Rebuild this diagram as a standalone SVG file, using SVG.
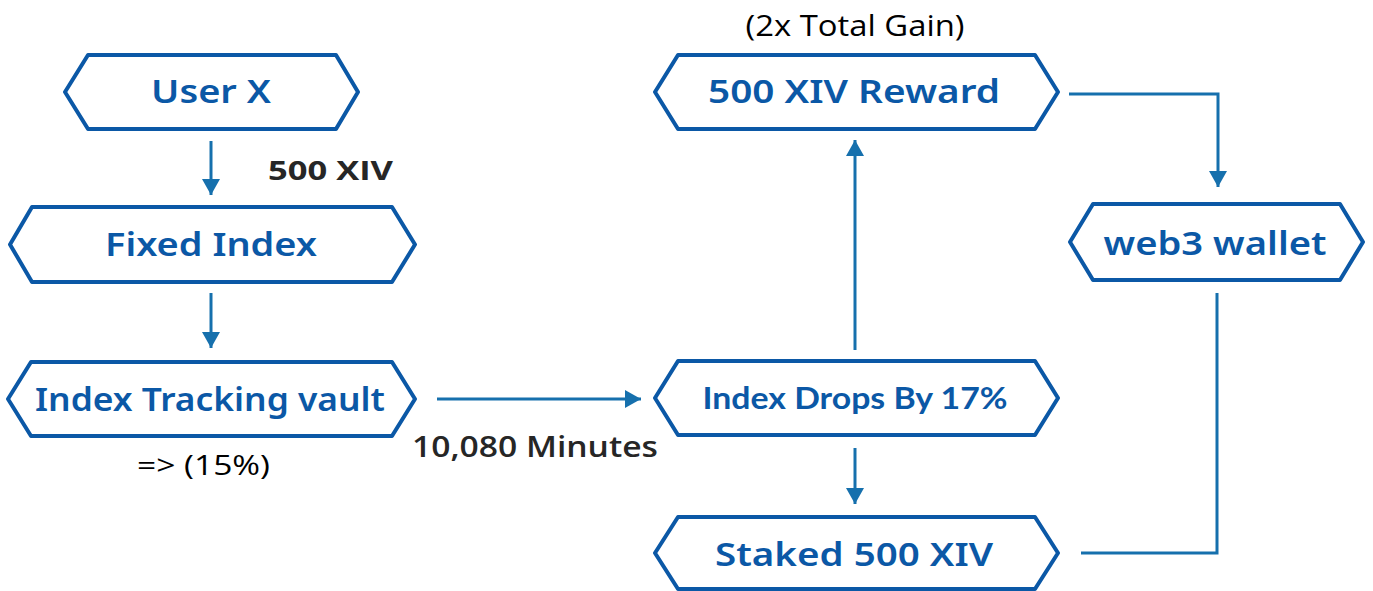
<svg xmlns="http://www.w3.org/2000/svg" width="1373" height="591" viewBox="0 0 1373 591">
<style>
.hex{fill:#fff;stroke:#0b58a6;stroke-width:4;stroke-linejoin:round}
.nt{font-family:"Noto Sans","Open Sans",sans-serif;font-weight:600;fill:#0b58a6;text-anchor:middle}
.cal{font-family:"Lato","Open Sans",sans-serif;font-weight:700;fill:#0b58a6;text-anchor:middle}
.lbl{font-family:"Open Sans","Noto Sans",sans-serif;fill:#262626}
.con{fill:none;stroke:#1670ad;stroke-width:3}
</style>
<defs>
<marker id="ah" markerUnits="userSpaceOnUse" markerWidth="18" markerHeight="18" viewBox="0 0 18 18" refX="16" refY="9" orient="auto">
<path d="M0,0 L16,9 L0,18 Z" fill="#1670ad"/>
</marker>
</defs>
<rect width="1373" height="591" fill="#fff"/>
<g id="connectors">
<path class="con" d="M211,141 V195" marker-end="url(#ah)"/>
<path class="con" d="M211,293 V348" marker-end="url(#ah)"/>
<path class="con" d="M437,399 H641" marker-end="url(#ah)"/>
<path class="con" d="M855,350 V140" marker-end="url(#ah)"/>
<path class="con" d="M855,448 V504" marker-end="url(#ah)"/>
<path class="con" d="M1069,94 H1218 V187" marker-end="url(#ah)"/>
<path class="con" d="M1081,553 H1217 V293"/>
</g>
<g id="gain"><text class="lbl" x="855" y="36" font-size="29" text-anchor="middle" fill="#000" style="fill:#000" textLength="219" lengthAdjust="spacingAndGlyphs">(2x Total Gain)</text></g>
<g id="userx">
<path class="hex" d="M65,92 L88,55 H336 L358,92 L336,129 H88 Z"/>
<text class="nt" x="211" y="103" font-size="33" textLength="120" lengthAdjust="spacingAndGlyphs">User X</text>
</g>
<g id="lbl500"><text class="lbl" x="268" y="180" font-size="27" font-weight="700" textLength="125" lengthAdjust="spacingAndGlyphs">500 XIV</text></g>
<g id="fixed">
<path class="hex" d="M10,244.5 L32,207 H392 L415,244.5 L392,282 H32 Z"/>
<text class="nt" x="211" y="256" font-size="33" textLength="212" lengthAdjust="spacingAndGlyphs">Fixed Index</text>
</g>
<g id="itv">
<path class="hex" d="M8,399 L31,362 H392 L415,399 L392,436 H31 Z"/>
<text class="nt" x="210" y="411" font-size="33" textLength="350" lengthAdjust="spacingAndGlyphs">Index Tracking vault</text>
</g>
<g id="lbl15"><text class="lbl" x="137" y="475" font-size="27" fill="#000" style="fill:#000" textLength="133" lengthAdjust="spacingAndGlyphs">=&gt; (15%)</text></g>
<g id="lblmin"><text class="lbl" x="412" y="457" font-size="28" font-weight="600" textLength="246" lengthAdjust="spacingAndGlyphs">10,080 Minutes</text></g>
<g id="reward">
<path class="hex" d="M655,92 L678,55 H1035 L1058,92 L1035,129 H678 Z"/>
<text class="nt" x="854" y="103" font-size="33" textLength="292" lengthAdjust="spacingAndGlyphs">500 XIV Reward</text>
</g>
<g id="wallet">
<path class="hex" d="M1070,242 L1093,204 H1340 L1363,242 L1340,280 H1093 Z"/>
<text class="nt" x="1215" y="255" font-size="33" textLength="223" lengthAdjust="spacingAndGlyphs">web3 wallet</text>
</g>
<g id="drops">
<path class="hex" d="M655,398 L678,361 H1035 L1058,398 L1035,435 H678 Z"/>
<text class="cal" x="855" y="409" font-size="31" textLength="305" lengthAdjust="spacingAndGlyphs">Index Drops By 17%</text>
</g>
<g id="staked">
<path class="hex" d="M655,553 L678,517 H1035 L1058,553 L1035,589 H678 Z"/>
<text class="nt" x="854" y="566" font-size="33" textLength="278" lengthAdjust="spacingAndGlyphs">Staked 500 XIV</text>
</g>
</svg>
